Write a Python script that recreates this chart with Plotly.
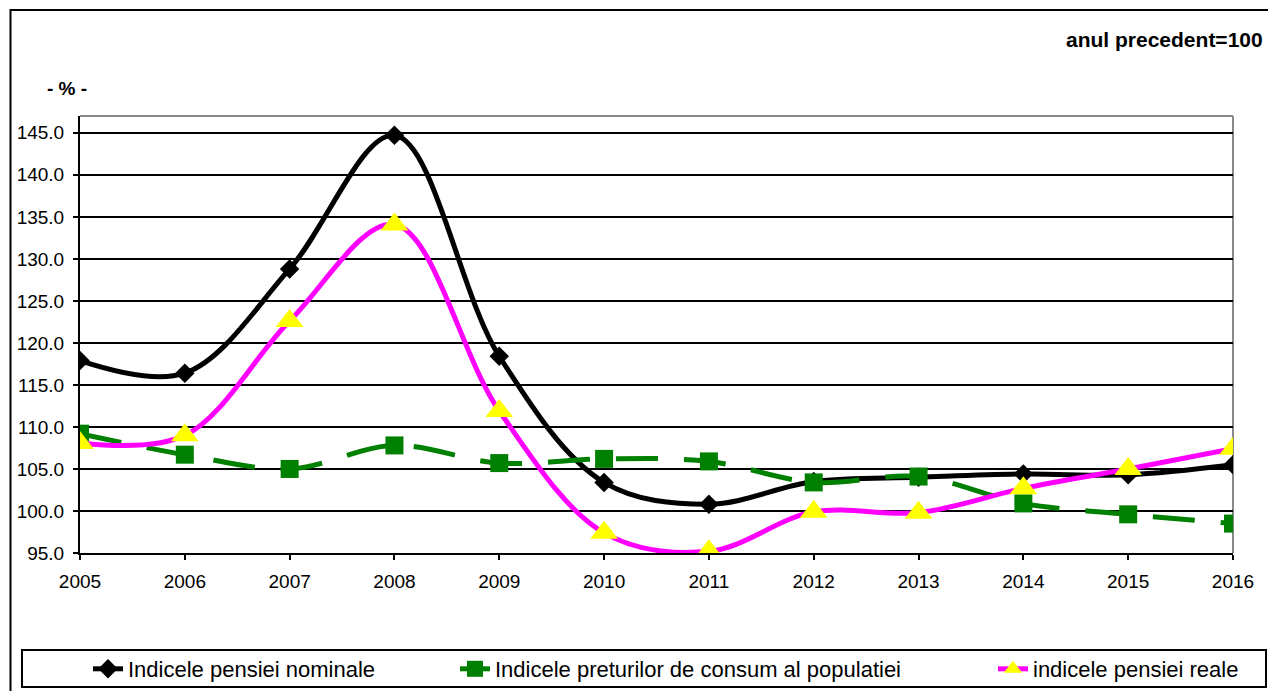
import plotly.graph_objects as go

years = list(range(2005, 2017))
nominal = [117.9, 116.4, 128.8, 144.7, 118.4, 103.4, 100.8, 103.5, 104.0, 104.4, 104.3, 105.5]
cpi = [109.2, 106.7, 105.0, 107.8, 105.7, 106.2, 105.9, 103.4, 104.1, 100.9, 99.6, 98.5]
real = [108.1, 109.0, 122.6, 134.1, 111.9, 97.4, 95.2, 99.9, 99.8, 102.7, 105.0, 107.4]

names = ["Indicele pensiei nominale",
         "Indicele preturilor de consum al populatiei",
         "indicele pensiei reale"]

FONT = "Arial, Liberation Sans, sans-serif"
W, H = 1268, 691
L, R, T, B = 80, 35, 116, 138
PW = W - L - R
PH = H - T - B


def px(x):
    return (x - L) / PW


def py(y):
    return (H - B - y) / PH


fig = go.Figure()
fig.add_trace(go.Scatter(
    x=years, y=nominal, name=names[0], mode="lines+markers",
    line=dict(color="#000000", width=5, shape="spline", smoothing=1),
    marker=dict(symbol="diamond", size=15, color="#000000"),
    legend="legend"))
fig.add_trace(go.Scatter(
    x=years, y=cpi, name=names[1], mode="lines+markers",
    line=dict(color="#008000", width=5, shape="spline", smoothing=1, dash="42px,26px"),
    marker=dict(symbol="square", size=18, color="#008000"),
    legend="legend2"))
fig.add_trace(go.Scatter(
    x=years, y=real, name=names[2], mode="lines+markers",
    line=dict(color="#FF00FF", width=5, shape="spline", smoothing=1),
    marker=dict(symbol="triangle-up", size=24, color="#FFFF00"),
    legend="legend3"))

legend_common = dict(orientation="h", yanchor="middle", xanchor="left",
                     xref="container", yref="container",
                     y=1 - 669 / H, font=dict(family=FONT, size=22, color="#000"),
                     bgcolor="rgba(0,0,0,0)", borderwidth=0)

fig.update_layout(
    width=W, height=H,
    margin=dict(l=L, r=R, t=T, b=B, pad=0, autoexpand=False),
    paper_bgcolor="white", plot_bgcolor="white",
    font=dict(family=FONT, size=19, color="#000"),
    showlegend=True,
    legend=dict(x=88 / W, **legend_common),
    legend2=dict(x=455 / W, **legend_common),
    legend3=dict(x=993 / W, **legend_common),
    xaxis=dict(range=[2005, 2016], tickmode="array", tickvals=years,
               ticktext=[str(y) for y in years],
               showgrid=False, zeroline=False, showline=True,
               linecolor="#000", linewidth=2, ticks="outside", ticklen=5,
               tickcolor="#000", tickwidth=2, ticklabelstandoff=5,
               tickfont=dict(family=FONT, size=19, color="#000")),
    yaxis=dict(range=[95, 147], tick0=95, dtick=5, tickformat=".1f",
               showgrid=True, gridcolor="#000", gridwidth=2, zeroline=False,
               showline=True, linecolor="#000", linewidth=2, ticks="outside",
               ticklen=5, tickcolor="#000", tickwidth=2, ticklabelstandoff=5,
               tickfont=dict(family=FONT, size=19, color="#000")),
    shapes=[
        # outer chart border
        dict(type="rect", xref="paper", yref="paper",
             x0=px(10.5), x1=1.2, y0=-0.6, y1=py(10),
             line=dict(color="#000", width=2), layer="below"),
        # plot area top & right border (gray)
        dict(type="line", xref="paper", yref="paper", x0=0, x1=1, y0=1, y1=1,
             line=dict(color="#888", width=2), layer="below"),
        dict(type="line", xref="paper", yref="paper", x0=1, x1=1, y0=0, y1=1,
             line=dict(color="#888", width=2), layer="below"),
        # legend box
        dict(type="rect", xref="paper", yref="paper",
             x0=px(22), x1=px(1266), y0=py(687), y1=py(650),
             line=dict(color="#000", width=2), fillcolor="white", layer="below"),
    ],
    annotations=[
        dict(text="<b>anul precedent=100</b>", xref="paper", yref="paper",
             x=px(1265), y=py(40), xanchor="right", yanchor="middle",
             showarrow=False, font=dict(family=FONT, size=21, color="#000")),
        dict(text="<b>- % -</b>", xref="paper", yref="paper",
             x=px(67), y=py(88), xanchor="center", yanchor="middle",
             showarrow=False, font=dict(family=FONT, size=19, color="#000")),
    ],
)

fig.write_html("out.html",
               config={"displayModeBar": False},
               post_script="document.body.style.margin='0';"
                           "document.body.style.overflow='hidden';")
